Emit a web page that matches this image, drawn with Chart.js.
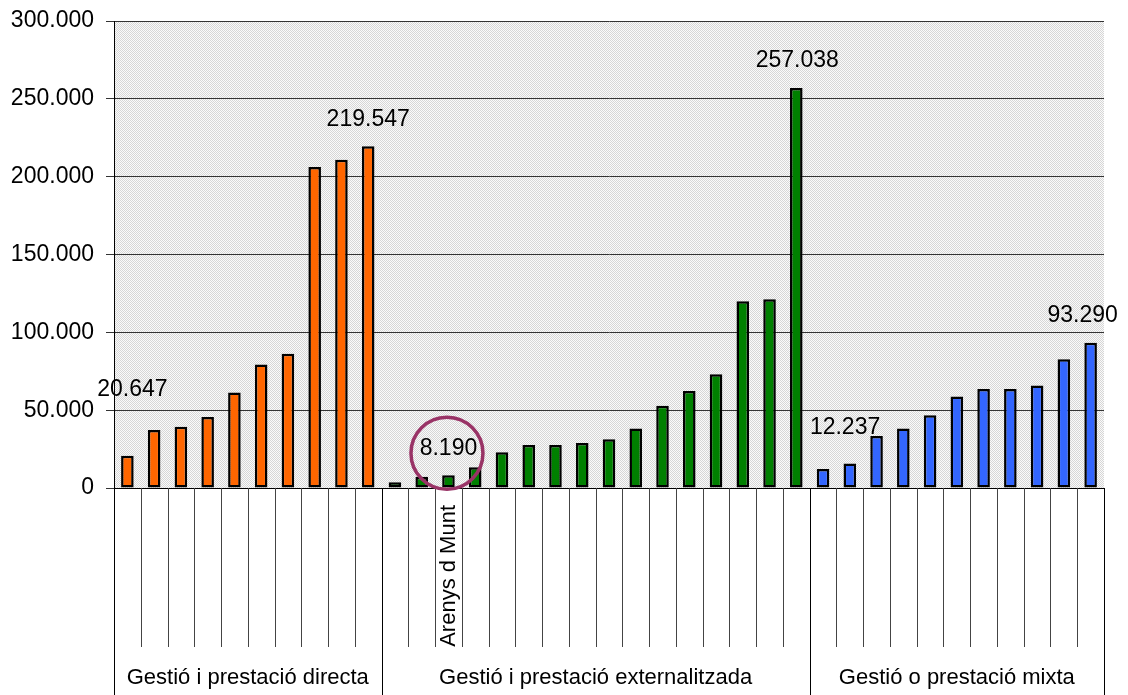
<!DOCTYPE html>
<html>
<head>
<meta charset="utf-8">
<script src="https://cdn.jsdelivr.net/npm/chart.js@4"></script>
<style>
  html, body { margin: 0; padding: 0; background: #fff; }
  #wrap { width: 1128px; height: 695px; }
</style>
</head>
<body>
<div id="wrap"><canvas id="chart"></canvas></div>
<script>
// groups and values
const groupNames = ['Gestió i prestació directa', 'Gestió i prestació externalitzada', 'Gestió o prestació mixta'];
const directa = [20647, 37300, 39400, 45600, 61300, 79300, 86300, 206200, 210900, 219547];
const externalitzada = [3700, 7300, 8190, 13300, 22900, 27600, 27600, 28900, 31300, 38300, 52900, 62300, 73000, 119900, 121200, 257038];
const mixta = [12237, 15700, 33400, 38300, 46700, 58700, 63600, 63600, 65800, 82700, 93290];
const categoryLabels = [
    '', '', '', '', '', '', '', '', '', '',
    '', '', 'Arenys d Munt', '', '', '', '', '', '', '', '', '', '', '', '', '',
    '', '', '', '', '', '', '', '', '', '', ''
];
const yTicks = [0, 50000, 100000, 150000, 200000, 250000, 300000];
const labelledBars = [0, 9, 12, 25, 26, 36];
const circledBar = 12;

(function() {
    'use strict';

    const FONT = "'Liberation Sans', Arial, sans-serif";
    const groupColors = ['#FF6600', '#008000', '#3366FF'];

    const groups = [directa, externalitzada, mixta];
    const values = [].concat(directa, externalitzada, mixta);
    const colors = [];
    const groupEnds = [];
    groups.forEach(function(g, gi) {
        g.forEach(function() { colors.push(groupColors[gi]); });
        groupEnds.push(colors.length);
    });

    function fmt(v) {
        return String(Math.round(v)).replace(/\B(?=(\d{3})+(?!\d))/g, '.');
    }

    // dotted background of the plot area
    const pc = document.createElement('canvas');
    pc.width = 2; pc.height = 2;
    const pctx = pc.getContext('2d');
    pctx.fillStyle = '#fafafa'; pctx.fillRect(0, 0, 2, 2);
    pctx.fillStyle = '#d6d6d6'; pctx.fillRect(0, 0, 1, 1); pctx.fillRect(1, 1, 1, 1);

    // label offsets (dx, dy from bar top-centre)
    const labelOffsets = {
        0: [5, -66], 9: [0, -27], 12: [0, -27], 25: [1, -27], 26: [22, -41], 36: [-8, -27]
    };

    const decor = {
        id: 'decor',
        beforeDraw: function(chart) {
            const a = chart.chartArea;
            const ctx = chart.ctx;
            ctx.save();
            ctx.fillStyle = ctx.createPattern(pc, 'repeat');
            ctx.fillRect(a.left, a.top, a.right - a.left, a.bottom - a.top);
            ctx.restore();
        },
        afterDraw: function(chart) {
            const ctx = chart.ctx;
            const x = chart.scales.x;
            const a = chart.chartArea;
            const n = values.length;
            const step = (a.right - a.left) / n;
            const H = chart.height;

            ctx.save();
            ctx.lineWidth = 1;
            ctx.strokeStyle = '#000';
            // x axis line
            ctx.beginPath();
            ctx.moveTo(a.left, Math.round(a.bottom) + 0.5);
            ctx.lineTo(a.right, Math.round(a.bottom) + 0.5);
            ctx.stroke();

            // category separators
            for (let i = 0; i <= n; i++) {
                const px = Math.round(x.getPixelForValue(i) - step / 2) + 0.5;
                const isGroup = i === 0 || groupEnds.indexOf(i) >= 0;
                ctx.strokeStyle = isGroup ? '#000' : '#444';
                ctx.beginPath();
                ctx.moveTo(px, a.bottom);
                ctx.lineTo(px, isGroup ? H : a.bottom + 159);
                ctx.stroke();
            }

            // group labels
            ctx.fillStyle = '#000';
            ctx.font = '22px ' + FONT;
            ctx.textAlign = 'center';
            ctx.textBaseline = 'middle';
            let start = 0;
            groupEnds.forEach(function(end, gi) {
                const x0 = x.getPixelForValue(start) - step / 2;
                const x1 = x.getPixelForValue(end - 1) + step / 2;
                ctx.fillText(groupNames[gi], (x0 + x1) / 2, a.bottom + 190);
                start = end;
            });

            // value labels
            const meta = chart.getDatasetMeta(0);
            ctx.font = '23px ' + FONT;
            labelledBars.forEach(function(i) {
                const bar = meta.data[i];
                const off = labelOffsets[i] || [0, -27];
                ctx.fillText(fmt(values[i]), bar.x + off[0], bar.y + off[1]);
            });

            // highlight circle
            const cb = meta.data[circledBar];
            ctx.strokeStyle = '#993366';
            ctx.lineWidth = 3.5;
            ctx.beginPath();
            ctx.arc(cb.x - 1.5, cb.y - 22, 36, 0, Math.PI * 2);
            ctx.stroke();
            ctx.restore();
        }
    };

    const config = {
        type: 'bar',
        data: {
            labels: categoryLabels,
            datasets: [{
                data: values,
                backgroundColor: colors,
                borderColor: '#000',
                borderWidth: 2.5,
                borderSkipped: false,
                barPercentage: 0.47,
                categoryPercentage: 1
            }]
        },
        options: {
            responsive: true,
            maintainAspectRatio: false,
            animation: false,
            layout: { padding: { top: 21, right: 24, left: 0, bottom: 0 } },
            plugins: {
                legend: { display: false },
                tooltip: { enabled: false }
            },
            scales: {
                x: {
                    grid: { display: false },
                    border: { display: false },
                    ticks: {
                        autoSkip: false,
                        maxRotation: 90,
                        minRotation: 90,
                        padding: 9,
                        color: '#000',
                        font: { family: FONT, size: 22 }
                    },
                    afterFit: function(scale) {
                        scale.height = 207;
                        scale.paddingLeft = 0;
                        scale.paddingRight = 0;
                    }
                },
                y: {
                    min: 0,
                    max: 300000,
                    afterBuildTicks: function(scale) {
                        scale.ticks = yTicks.map(function(v) { return { value: v }; });
                    },
                    grid: {
                        color: '#333',
                        lineWidth: 1,
                        tickLength: 8
                    },
                    border: { display: true, color: '#000', width: 1 },
                    ticks: {
                        padding: 12,
                        color: '#000',
                        font: { family: FONT, size: 23 },
                        callback: function(v) { return fmt(v); }
                    },
                    afterFit: function(scale) {
                        scale.width = 114;
                        scale.paddingTop = 0;
                        scale.paddingBottom = 0;
                    }
                }
            }
        },
        plugins: [decor]
    };

    new Chart(document.getElementById('chart'), config);
})();
</script>
</body>
</html>
